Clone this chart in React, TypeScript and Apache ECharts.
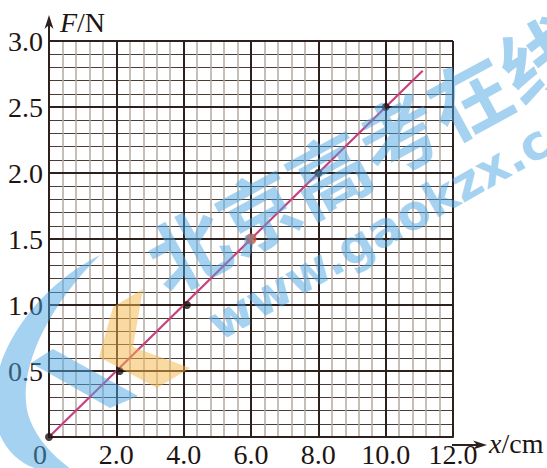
import React, { useEffect, useRef } from "react";
import * as echarts from "echarts";

// ---- data ----
const xTicks = [0, 2, 4, 6, 8, 10, 12];
const xTickLabels = ["0", "2.0", "4.0", "6.0", "8.0", "10.0", "12.0"];
const yTicks = [0, 0.5, 1.0, 1.5, 2.0, 2.5, 3.0];
const yTickLabels = ["", "0.5", "1.0", "1.5", "2.0", "2.5", "3.0"];
const xMinorStep = 0.4; // fine grid: cm
const yMinorStep = 0.1; // fine grid: N

const pointX = [0, 2.1, 4.1, 6.0, 8.0, 10.0]; // x / cm
const pointF = [0, 0.5, 1.0, 1.5, 2.0, 2.5]; // F / N
const highlightIndex = 3; // red point

const fitX = [0, 11.1];
const fitF = [0, 2.775];

const DARK = "#2e211d";
const FONT = "Liberation Serif";

export default function App() {
  const ref = useRef<HTMLDivElement>(null);

  useEffect(() => {
    document.body.style.margin = "0";
    if (!ref.current) return;

    try {
      echarts.graphic.registerShape(
        "crescent",
        echarts.graphic.extendPath(
          "M100,255 C40,285 -10,350 -6,410 C-3,445 18,465 42,470 L72,470 C52,455 38,440 30,420 C16,385 35,320 100,255 Z",
          {}
        )
      );
    } catch (e) {}

    const chart = echarts.init(ref.current, undefined, { renderer: "svg" });

    const xLabel = (v: number) => {
      const i = xTicks.indexOf(v);
      const t = i >= 0 ? xTickLabels[i] : "";
      return v === 0 ? "{o|" + t + "}" : t;
    };
    const yLabel = (v: number) => {
      const i = yTicks.findIndex((t) => Math.abs(t - v) < 1e-6);
      return i >= 0 ? yTickLabels[i] : "";
    };

    const wmBlue = "#4aa6e2";
    const wmOpacity = 0.5;

    const hidden = {
      axisLine: { show: false },
      axisTick: { show: false },
      axisLabel: { show: false },
    };

    const option: any = {
      animation: false,
      grid: { left: 49, right: 94, top: 41, bottom: 23, containLabel: false },
      xAxis: [
        {
          type: "value",
          min: 0,
          max: 12,
          interval: xMinorStep,
          ...hidden,
          splitLine: { show: true, lineStyle: { color: "#b3a8a1", width: 1.5 } },
          z: 0,
        },
        {
          type: "value",
          min: 0,
          max: 12,
          interval: 2,
          position: "bottom",
          offset: 0,
          axisLine: { show: true, onZero: false, lineStyle: { color: DARK, width: 2 } },
          axisTick: { show: false },
          splitLine: { show: true, lineStyle: { color: DARK, width: 2 } },
          axisLabel: {
            margin: 3,
            color: "#1e1512",
            fontFamily: FONT,
            fontSize: 28,
            formatter: xLabel,
            rich: {
              o: { fontFamily: FONT, fontSize: 28, color: "#1e1512", padding: [0, 18, 0, 0] },
            },
          },
          z: 1,
        },
      ],
      yAxis: [
        {
          type: "value",
          min: 0,
          max: 3,
          interval: yMinorStep,
          ...hidden,
          splitLine: { show: true, lineStyle: { color: "#4a3b36", width: 1 } },
          z: 0,
        },
        {
          type: "value",
          min: 0,
          max: 3,
          interval: 0.5,
          position: "left",
          offset: 0,
          axisLine: { show: true, onZero: false, lineStyle: { color: DARK, width: 2 } },
          axisTick: { show: false },
          splitLine: { show: true, lineStyle: { color: DARK, width: 2 } },
          axisLabel: {
            margin: 6,
            color: "#1e1512",
            fontFamily: FONT,
            fontSize: 28,
            formatter: yLabel,
          },
          z: 1,
        },
      ],
      series: [
        {
          type: "line",
          xAxisIndex: 1,
          yAxisIndex: 1,
          data: fitX.map((x, i) => [x, fitF[i]]),
          showSymbol: false,
          symbol: "none",
          lineStyle: { color: "#c8407e", width: 2.2 },
          z: 3,
          clip: false,
        },
        {
          type: "scatter",
          xAxisIndex: 1,
          yAxisIndex: 1,
          data: pointX.map((x, i) => ({
            value: [x, pointF[i]],
            symbolSize: i === highlightIndex ? 11 : 8,
            itemStyle: { color: i === highlightIndex ? "#ee4a1c" : "#1b1310" },
          })),
          z: 4,
          clip: false,
        },
      ],
      graphic: [
        // axis extensions with arrows
        { type: "line", shape: { x1: 49, y1: 42, x2: 49, y2: 22 }, style: { stroke: DARK, lineWidth: 2 }, z: 10 },
        { type: "polygon", shape: { points: [[49, 15], [44.5, 29], [49, 25], [53.5, 29]] }, style: { fill: DARK }, z: 10 },
        { type: "line", shape: { x1: 452, y1: 445, x2: 480, y2: 445 }, style: { stroke: DARK, lineWidth: 2 }, z: 10 },
        { type: "polygon", shape: { points: [[487, 445], [473, 440.5], [477, 445], [473, 449.5]] }, style: { fill: DARK }, z: 10 },
        // axis names
        {
          type: "text",
          x: 60,
          y: 22,
          z: 10,
          style: {
            text: "{i|F}/N",
            font: "28px " + FONT,
            fill: "#1e1512",
            textVerticalAlign: "middle",
            verticalAlign: "middle",
            rich: { i: { fontStyle: "italic", fontFamily: FONT, fontSize: 28, fill: "#1e1512" } },
          },
        },
        {
          type: "text",
          x: 489,
          y: 443,
          z: 10,
          style: {
            text: "{i|x}/cm",
            font: "28px " + FONT,
            fill: "#1e1512",
            textVerticalAlign: "middle",
            verticalAlign: "middle",
            rich: { i: { fontStyle: "italic", fontFamily: FONT, fontSize: 28, fill: "#1e1512" } },
          },
        },
        // watermark
        { type: "crescent", x: 0, y: 0, z: 100, style: { fill: wmBlue, opacity: wmOpacity } },
        {
          type: "polygon",
          z: 100,
          shape: { points: [[31, 363], [53, 349], [138, 396], [110, 408]] },
          style: { fill: wmBlue, opacity: wmOpacity },
        },
        {
          type: "polygon",
          z: 100,
          shape: { points: [[143, 289], [133, 347], [190, 368], [157, 388], [99, 357], [113, 307]] },
          style: { fill: "#f3b648", opacity: wmOpacity },
        },
        {
          type: "text",
          x: 362,
          y: 151,
          rotation: (28.5 * Math.PI) / 180,
          z: 100,
          style: {
            text: "北京高考在线",
            font: 'bold 80px "Noto Sans CJK SC"',
            fill: wmBlue,
            opacity: wmOpacity,
            textAlign: "center",
            align: "center",
            textVerticalAlign: "middle",
            verticalAlign: "middle",
          },
        },
        {
          type: "text",
          x: 211,
          y: 327,
          rotation: (29.6 * Math.PI) / 180,
          z: 100,
          style: {
            text: "www.gaokzx.com",
            font: 'bold 48px "DejaVu Sans"',
            fill: wmBlue,
            opacity: wmOpacity,
            textAlign: "left",
            align: "left",
            textVerticalAlign: "middle",
            verticalAlign: "middle",
          },
        },
      ],
    };

    chart.setOption(option);
    return () => chart.dispose();
  }, []);

  return <div ref={ref} style={{ width: 547, height: 468 }} />;
}
